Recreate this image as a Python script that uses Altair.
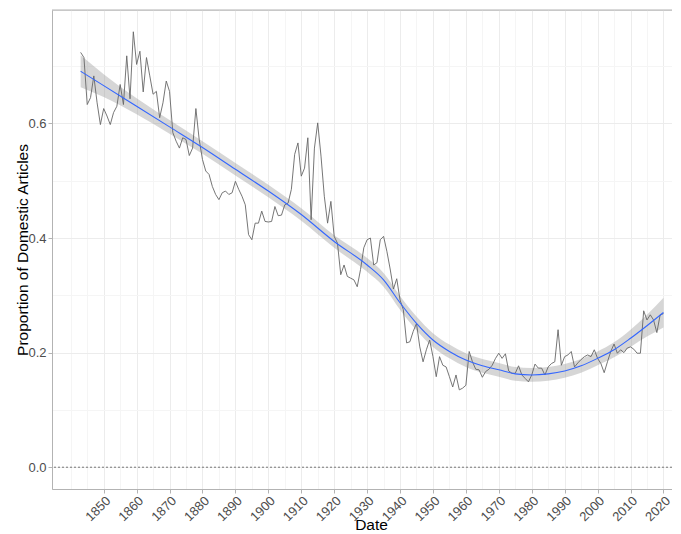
import altair as alt
import pandas as pd

# ---- data ----
first_year = 1843
proportion = [
    0.724, 0.715, 0.633, 0.645, 0.683, 0.636, 0.598,                      # 1843-1849
    0.626, 0.613, 0.598, 0.619, 0.630, 0.668, 0.633, 0.718, 0.643, 0.760,  # 1850s
    0.703, 0.726, 0.655, 0.715, 0.683, 0.651, 0.656, 0.610, 0.636, 0.674,  # 1860s
    0.656, 0.584, 0.569, 0.557, 0.575, 0.572, 0.544, 0.557, 0.626, 0.572,  # 1870s
    0.537, 0.517, 0.511, 0.490, 0.476, 0.467, 0.479, 0.482, 0.476, 0.479,  # 1880s
    0.499, 0.485, 0.473, 0.458, 0.406, 0.397, 0.426, 0.426, 0.447, 0.429,  # 1890s
    0.428, 0.429, 0.455, 0.439, 0.440, 0.458, 0.461, 0.485, 0.546, 0.566,  # 1900s
    0.508, 0.522, 0.575, 0.432, 0.557, 0.601, 0.543, 0.473, 0.426, 0.464,  # 1910s
    0.403, 0.391, 0.336, 0.353, 0.333, 0.330, 0.327, 0.315, 0.345, 0.383,  # 1920s
    0.397, 0.400, 0.353, 0.357, 0.397, 0.403, 0.377, 0.346, 0.311, 0.329,  # 1930s
    0.292, 0.275, 0.217, 0.219, 0.237, 0.251, 0.210, 0.184, 0.205, 0.222,  # 1940s
    0.193, 0.158, 0.193, 0.178, 0.175, 0.158, 0.140, 0.161, 0.135, 0.138,  # 1950s
    0.143, 0.202, 0.184, 0.171, 0.170, 0.157, 0.167, 0.171, 0.178, 0.190,  # 1960s
    0.199, 0.190, 0.198, 0.168, 0.164, 0.164, 0.177, 0.161, 0.155, 0.149,  # 1970s
    0.161, 0.180, 0.173, 0.173, 0.161, 0.175, 0.181, 0.184, 0.240, 0.178,  # 1980s
    0.193, 0.196, 0.202, 0.175, 0.182, 0.188, 0.193, 0.196, 0.193, 0.205,  # 1990s
    0.190, 0.181, 0.165, 0.184, 0.202, 0.215, 0.199, 0.205, 0.200, 0.208,  # 2000s
    0.210, 0.206, 0.199, 0.199, 0.273, 0.257, 0.266, 0.257, 0.235, 0.266,  # 2010s
    0.268,                                                                 # 2020
]
years = list(range(first_year, first_year + len(proportion)))

smooth_years = [1843, 1850, 1860, 1870, 1880, 1890, 1900, 1910, 1920, 1930,
                1935, 1940, 1945, 1950, 1955, 1960, 1965, 1970, 1975, 1980,
                1985, 1990, 1995, 2000, 2005, 2010, 2015, 2020]
smooth_values = [0.691, 0.666, 0.630, 0.594, 0.558, 0.520, 0.482, 0.441, 0.394, 0.353,
                 0.327, 0.287, 0.251, 0.222, 0.202, 0.187, 0.177, 0.170, 0.163, 0.161,
                 0.163, 0.168, 0.177, 0.190, 0.205, 0.225, 0.247, 0.270]
smooth_halfwidth = [0.028, 0.020, 0.014, 0.012, 0.011, 0.011, 0.011, 0.011, 0.011, 0.012,
                    0.012, 0.012, 0.012, 0.012, 0.012, 0.012, 0.012, 0.012, 0.012, 0.012,
                    0.012, 0.012, 0.012, 0.012, 0.013, 0.015, 0.019, 0.026]

x_tick_values = list(range(1840, 2025, 5))
y_tick_values = [0.0, 0.1, 0.2, 0.3, 0.4, 0.5, 0.6, 0.7]

raw = pd.DataFrame({"Date": years, "value": proportion})
smooth = pd.DataFrame({
    "Date": smooth_years,
    "value": smooth_values,
    "lo": [v - h for v, h in zip(smooth_values, smooth_halfwidth)],
    "hi": [v + h for v, h in zip(smooth_values, smooth_halfwidth)],
})
zero = pd.DataFrame({"value": [0.0]})

W, H = 620, 479
FONT = "Liberation Sans"

xscale = alt.Scale(domain=[1834.3, 2022.6], nice=False, zero=False)
yscale = alt.Scale(domain=[-0.038, 0.798], nice=False, zero=False)

major_x = "datum.value % 10 == 0 && datum.value >= 1850"
major_y = "round(datum.value * 10) % 2 == 0"

x_axis = alt.Axis(
    title="Date",
    values=x_tick_values,
    labelExpr=f"({major_x}) ? format(datum.value, 'd') : ''",
    labelAngle=-45, labelAlign="right", labelBaseline="top",
    labelFont=FONT, labelFontSize=13, labelColor="#4d4d4d", labelPadding=1,
    labelOverlap=False, labelBound=False, labelFlush=False,
    tickOpacity={"condition": {"test": major_x, "value": 1}, "value": 0},
    tickColor="#b3b3b3", tickSize=4,
    gridColor={"condition": {"test": major_x, "value": "#ececec"}, "value": "#f5f5f5"},
    gridWidth=1,
    domainColor="#b3b3b3", domainWidth=1,
    titleFont=FONT, titleFontSize=15.5, titleFontWeight="normal", titleColor="#000000",
    titlePadding=-6, titleX=319, titleAnchor="middle",
)
y_axis = alt.Axis(
    title="Proportion of Domestic Articles",
    values=y_tick_values,
    labelExpr=f"({major_y}) ? format(datum.value, '.1f') : ''",
    labelFont=FONT, labelFontSize=13, labelColor="#4d4d4d", labelPadding=2,
    labelOverlap=False,
    tickOpacity={"condition": {"test": major_y, "value": 1}, "value": 0},
    tickColor="#b3b3b3", tickSize=4,
    gridColor={"condition": {"test": major_y, "value": "#ececec"}, "value": "#f5f5f5"},
    gridWidth=1,
    domainColor="#b3b3b3", domainWidth=1,
    titleFont=FONT, titleFontSize=15.5, titleFontWeight="normal", titleColor="#000000",
    titlePadding=-3,
)

X = alt.X("Date:Q", scale=xscale, axis=x_axis)
Y = alt.Y("value:Q", scale=yscale, axis=y_axis)

band = alt.Chart(smooth).mark_area(color="#999999", opacity=0.4, interpolate="monotone").encode(
    x=X,
    y=alt.Y("lo:Q", scale=yscale, axis=y_axis),
    y2="hi:Q",
)

raw_line = alt.Chart(raw).mark_line(color="#666666", strokeWidth=0.9).encode(x=X, y=Y)

fit_line = alt.Chart(smooth).mark_line(color="#3366FF", strokeWidth=1.1, interpolate="monotone").encode(
    x=X, y=Y
)

zero_line = alt.Chart(zero).mark_rule(color="#777777", strokeDash=[2, 2], strokeWidth=1).encode(y=Y)

top_border = alt.Chart(zero).mark_rule(color="#b3b3b3", strokeWidth=1).encode(
    x=alt.value(0), x2=alt.value(W), y=alt.value(0)
)

chart = alt.layer(band, raw_line, fit_line, zero_line, top_border).properties(
    width=W, height=H,
    autosize=alt.AutoSizeParams(type="none"),
    padding={"left": 44, "top": 2, "right": 0, "bottom": 44},
).configure_view(stroke=None).configure(background="white")

chart.save("out.html", embed_options={"renderer": "svg", "actions": False})
